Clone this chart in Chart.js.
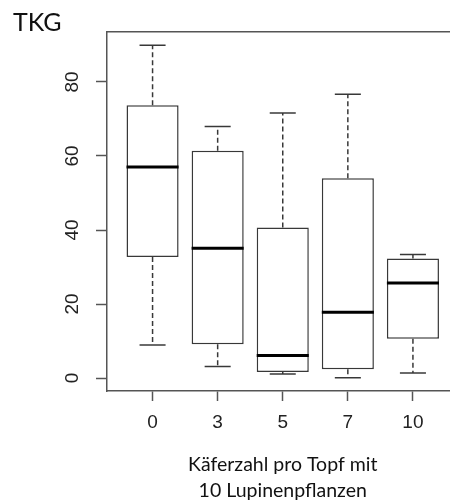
<!DOCTYPE html>
<html>
<head>
<meta charset="utf-8">
<script src="https://cdn.jsdelivr.net/npm/chart.js@4"></script>
<style>
  html, body { margin: 0; padding: 0; overflow: hidden; background: #fff; }
  #wrap { position: absolute; left: 0; top: 0; width: 470px; height: 501px; }
</style>
</head>
<body>
<div id="wrap"><canvas id="boxChart"></canvas></div>
<script>
// Käferzahl groups and box statistics
const categories = ["0", "3", "5", "7", "10"];
const whiskerLow = [8.9, 3.1, 1.1, 0.1, 1.35];
const quartile1 = [32.7, 9.1, 1.6, 2.35, 10.6];
const medians = [57.0, 35.1, 6.1, 17.8, 25.7];
const quartile3 = [73.7, 61.4, 40.7, 54.0, 32.3];
const whiskerHigh = [89.9, 68.0, 71.6, 76.7, 33.4];
const yTicks = [0, 20, 40, 60, 80];

const boxHalf = 0.4;
const capHalf = 0.2;
const lineColor = "#383838";

function segment(x1, y1, x2, y2, extra) {
    return Object.assign({
        type: "line",
        data: [{ x: x1, y: y1 }, { x: x2, y: y2 }],
        borderColor: lineColor,
        borderWidth: 1.5,
        pointRadius: 0,
        fill: false,
        order: 1,
    }, extra);
}

const datasets = [];

// boxes (q1..q3) as floating bars
datasets.push({
    type: "bar",
    data: categories.map((c, i) => ({ x: i + 1, y: [quartile1[i], quartile3[i]] })),
    backgroundColor: "#ffffff",
    borderColor: lineColor,
    borderWidth: 1.5,
    borderSkipped: false,
    categoryPercentage: 1,
    barPercentage: 0.8,
    order: 2,
});

categories.forEach((c, i) => {
    const x = i + 1;
    // whiskers
    datasets.push(segment(x, quartile3[i], x, whiskerHigh[i], { borderDash: [5, 3] }));
    datasets.push(segment(x, quartile1[i], x, whiskerLow[i], { borderDash: [5, 3] }));
    // caps
    datasets.push(segment(x - capHalf, whiskerHigh[i], x + capHalf, whiskerHigh[i]));
    datasets.push(segment(x - capHalf, whiskerLow[i], x + capHalf, whiskerLow[i]));
    // median
    datasets.push(segment(x - boxHalf, medians[i], x + boxHalf, medians[i], { borderColor: "#000", borderWidth: 3, order: 0 }));
});

new Chart(document.getElementById("boxChart"), {
    type: "bar",
    data: { datasets: datasets },
    options: {
        responsive: true,
        maintainAspectRatio: false,
        animation: false,
        layout: { padding: { left: 13, right: 11.5, top: 0, bottom: 0 } },
        plugins: {
            legend: { display: false },
            tooltip: { enabled: false },
            title: {
                display: true,
                text: "TKG",
                align: "start",
                color: "#111",
                font: { family: "Lato", size: 25, weight: "normal", lineHeight: 1 },
                padding: { top: 10, bottom: -3 },
            },
        },
        scales: {
            x: {
                type: "linear",
                position: "bottom",
                min: 0.3,
                max: 5.7,
                offset: false,
                afterFit: s => { s.height = 110; },
                ticks: {
                    stepSize: 1,
                    includeBounds: false,
                    autoSkip: false,
                    maxRotation: 0,
                    padding: 10,
                    color: "#222",
                    font: { family: "Liberation Sans", size: 19 },
                    callback: v => categories[v - 1],
                },
                grid: { display: true, offset: false, drawOnChartArea: false, drawTicks: true, tickLength: 10, tickColor: "#555", tickWidth: 1.5 },
                border: { display: true, color: "#555", width: 1.5 },
                title: {
                    display: true,
                    text: ["Käferzahl pro Topf mit", "10 Lupinenpflanzen"],
                    color: "#111",
                    font: { family: "Lato", size: 19.5, lineHeight: 1.35 },
                    padding: { top: 0, bottom: -3 },
                },
            },
            xTop: {
                type: "linear",
                axis: "x",
                position: "top",
                display: true,
                min: 0.3,
                max: 5.7,
                afterFit: s => { s.height = 0; },
                ticks: { display: false },
                grid: { display: true, offset: false, drawOnChartArea: false, drawTicks: false },
                border: { display: true, color: "#555", width: 1.5 },
            },
            y: {
                type: "linear",
                position: "left",
                min: -3.5,
                max: 93.5,
                afterFit: s => { s.width = 94; },
                afterBuildTicks: s => { s.ticks = yTicks.map(v => ({ value: v })); },
                ticks: {
                    minRotation: 90,
                    maxRotation: 90,
                    crossAlign: "center",
                    padding: 13,
                    color: "#222",
                    font: { family: "Liberation Sans", size: 19 },
                },
                grid: { display: true, drawOnChartArea: false, drawTicks: true, tickLength: 11, tickColor: "#555", tickWidth: 1.5 },
                border: { display: true, color: "#555", width: 1.5 },
            },
        },
    },
});
</script>
</body>
</html>
